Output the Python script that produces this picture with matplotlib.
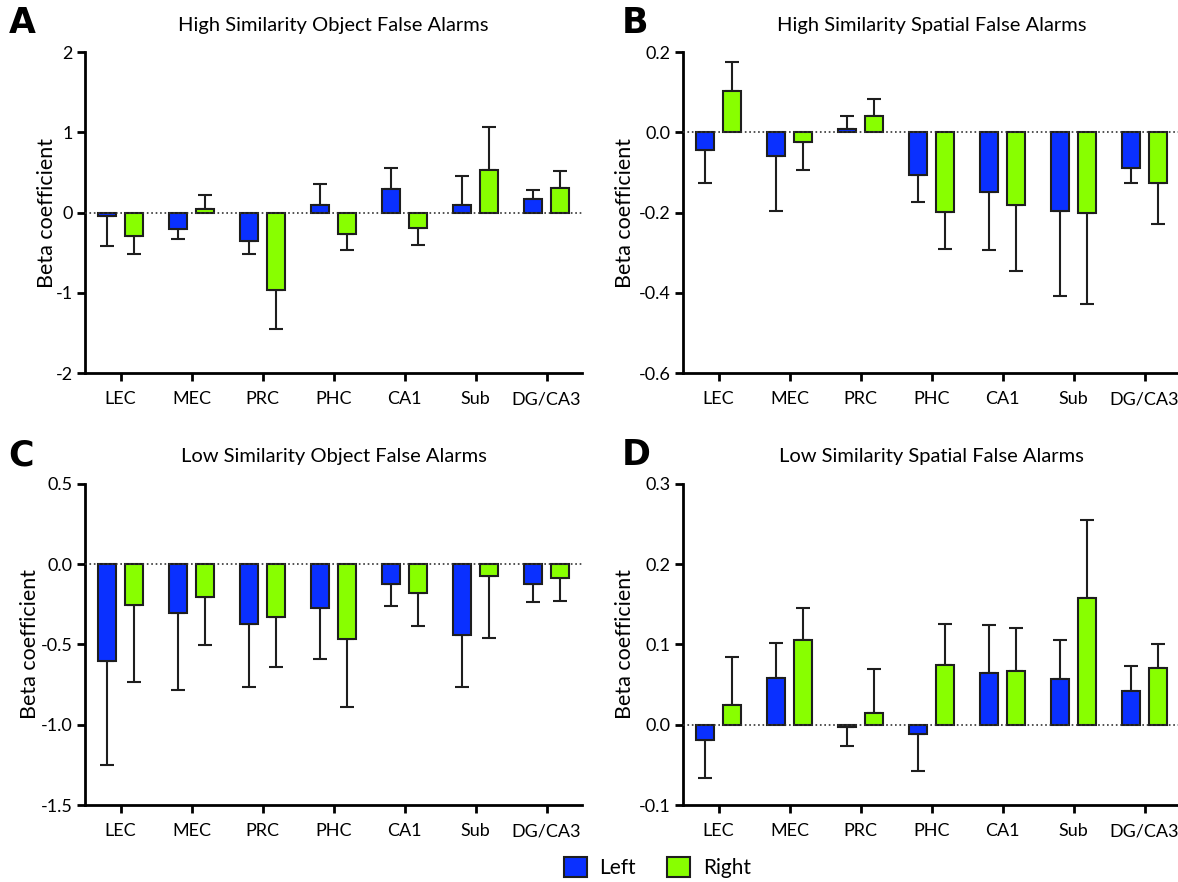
import matplotlib
matplotlib.use('Agg')
import matplotlib.pyplot as plt
from matplotlib.patches import Patch
import numpy as np

plt.rcParams['font.family'] = ['Lato', 'DejaVu Sans']
plt.rcParams['axes.unicode_minus'] = False

regions = ['LEC', 'MEC', 'PRC', 'PHC', 'CA1', 'Sub', 'DG/CA3']

# A: High Similarity Object False Alarms
a_left = [-0.04, -0.20, -0.36, 0.095, 0.29, 0.095, 0.17]
a_left_tip = [-0.42, -0.33, -0.52, 0.35, 0.56, 0.46, 0.28]
a_right = [-0.29, 0.05, -0.96, -0.27, -0.19, 0.53, 0.30]
a_right_tip = [-0.52, 0.22, -1.45, -0.47, -0.40, 1.06, 0.52]

# B: High Similarity Spatial False Alarms
b_left = [-0.045, -0.058, 0.007, -0.107, -0.148, -0.195, -0.089]
b_left_tip = [-0.127, -0.196, 0.040, -0.174, -0.293, -0.408, -0.126]
b_right = [0.102, -0.023, 0.040, -0.199, -0.180, -0.200, -0.127]
b_right_tip = [0.175, -0.094, 0.083, -0.290, -0.346, -0.428, -0.229]

# C: Low Similarity Object False Alarms
c_left = [-0.605, -0.306, -0.374, -0.271, -0.126, -0.442, -0.122]
c_left_tip = [-1.248, -0.785, -0.762, -0.589, -0.260, -0.767, -0.233]
c_right = [-0.252, -0.202, -0.326, -0.467, -0.180, -0.076, -0.085]
c_right_tip = [-0.731, -0.502, -0.643, -0.890, -0.388, -0.461, -0.229]

# D: Low Similarity Spatial False Alarms
d_left = [-0.019, 0.058, -0.003, -0.012, 0.064, 0.057, 0.042]
d_left_tip = [-0.066, 0.102, -0.026, -0.058, 0.124, 0.105, 0.073]
d_right = [0.025, 0.105, 0.0145, 0.074, 0.067, 0.158, 0.071]
d_right_tip = [0.084, 0.145, 0.069, 0.125, 0.121, 0.255, 0.101]

panels = [
    ('A', 'High Similarity Object False Alarms', a_left, a_left_tip, a_right, a_right_tip,
     [-2, -1, 0, 1, 2], '%d', [0.0722, 0.577, 0.4219, 0.364], -0.056, -0.065),
    ('B', 'High Similarity Spatial False Alarms', b_left, b_left_tip, b_right, b_right_tip,
     [-0.6, -0.4, -0.2, 0.0, 0.2], '%.1f', [0.5798, 0.577, 0.4219, 0.364], -0.097, -0.052),
    ('C', 'Low Similarity Object False Alarms', c_left, c_left_tip, c_right, c_right_tip,
     [-1.5, -1.0, -0.5, 0.0, 0.5], '%.1f', [0.0722, 0.0873, 0.4219, 0.364], -0.09, -0.065),
    ('D', 'Low Similarity Spatial False Alarms', d_left, d_left_tip, d_right, d_right_tip,
     [-0.1, 0.0, 0.1, 0.2, 0.3], '%.1f', [0.5798, 0.0873, 0.4219, 0.364], -0.097, -0.052),
]

blue = '#0a30ff'
green = '#88ff00'
edge = '#1e1e1e'
x = np.arange(len(regions))
off = 0.19
w = 0.25

fig = plt.figure(figsize=(11.78, 8.82), dpi=100)

def one_sided(vals, tips):
    vals = np.array(vals); tips = np.array(tips)
    lo = np.where(tips < vals, vals - tips, 0)
    hi = np.where(tips > vals, tips - vals, 0)
    return [lo, hi]

for letter, title, lv, lt, rv, rt, yt, fmt, pos, ylx, lx in panels:
    ax = fig.add_axes(pos)
    for xs, v, t, c in [(x - off, lv, lt, blue), (x + off, rv, rt, green)]:
        ax.errorbar(xs, v, yerr=one_sided(v, t), fmt='none', ecolor=edge,
                    elinewidth=1.5, capsize=5, capthick=1.5, zorder=2)
        ax.bar(xs, v, width=w, color=c, edgecolor=edge, linewidth=1.5, zorder=3)
    ax.axhline(0, color='#333333', linestyle=':', linewidth=1.2, zorder=4)
    ax.set_xlim(-0.5, 6.5)
    ax.set_ylim(yt[0], yt[-1])
    ax.set_yticks(yt)
    ax.set_yticklabels([fmt % v for v in yt])
    ax.set_xticks(x)
    ax.set_xticklabels(regions)
    for s in ['top', 'right']:
        ax.spines[s].set_visible(False)
    for s in ['left', 'bottom']:
        ax.spines[s].set_linewidth(2)
    ax.tick_params(axis='both', direction='out', length=6, width=2, labelsize=13, pad=3)
    ax.tick_params(axis='x', pad=7)
    ax.set_ylabel('Beta coefficient', fontsize=15.5)
    ax.yaxis.set_label_coords(ylx, 0.5)
    ax.set_title(title, fontsize=14.5, pad=15.5)
    fig.text(pos[0] + lx, pos[1] + pos[3] + 0.052, letter, fontsize=25,
             fontweight='bold', ha='left', va='top', family='DejaVu Sans')

handles = [Patch(facecolor=blue, edgecolor=edge, linewidth=1.5, label='Left'),
           Patch(facecolor=green, edgecolor=edge, linewidth=1.5, label='Right')]
fig.legend(handles=handles, loc='center', bbox_to_anchor=(0.558, 0.016), ncol=2,
           frameon=False, fontsize=15, handlelength=1.1, handleheight=1.1,
           columnspacing=1.5, handletextpad=0.6)

plt.savefig('out.png', dpi=100)
plt.close()
print('Saved.')
